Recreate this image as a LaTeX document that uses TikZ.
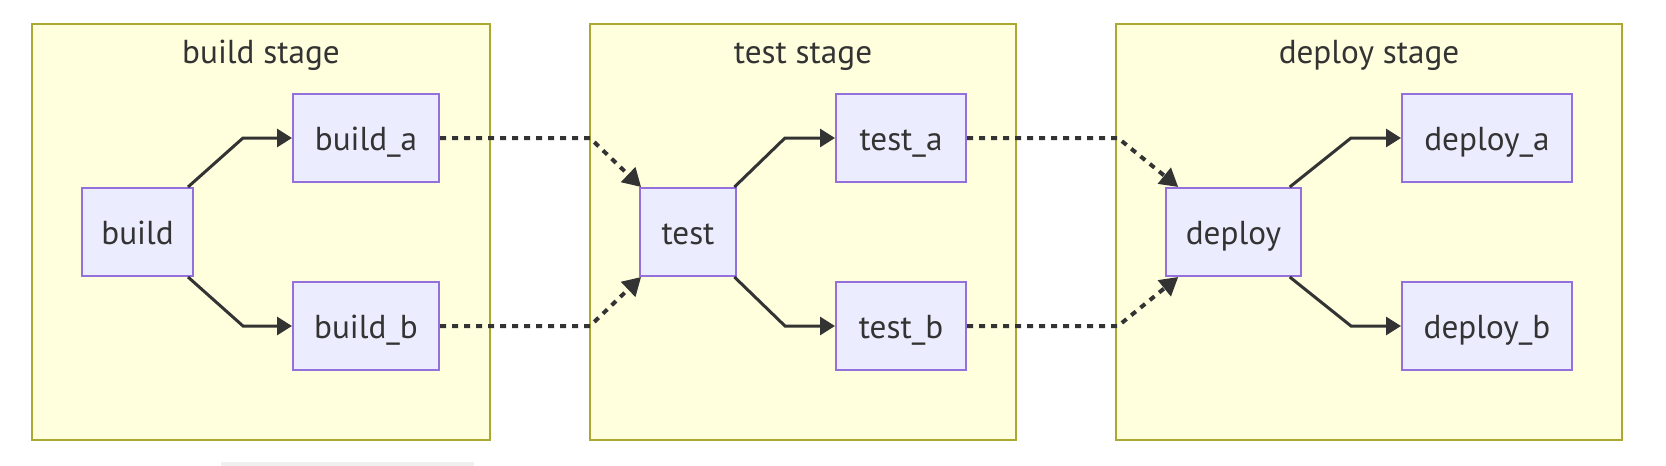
\documentclass[tikz,border=0pt]{standalone}
\usepackage{fontspec}
\setmainfont{PT Sans}
\usetikzlibrary{arrows.meta}
\definecolor{clFill}{HTML}{FFFFDE}
\definecolor{clStroke}{HTML}{AAAA33}
\definecolor{ndFill}{HTML}{ECECFF}
\definecolor{ndStroke}{HTML}{9370DB}
\definecolor{ink}{HTML}{333333}
\definecolor{barGrey}{HTML}{EFEFEF}
\tikzset{
  cluster/.style={fill=clFill, draw=clStroke, line width=1pt},
  cltitle/.style={text=ink, font=\fontsize{16.6}{19}\selectfont, inner sep=0pt, anchor=base},
  nd/.style={draw=ndStroke, fill=ndFill, line width=1pt, minimum height=44pt, inner sep=0pt,
    text height=15pt, text depth=3pt,
    text=ink, font=\fontsize{16.6}{19}\selectfont},
  edge/.style={draw=ink, line width=1.5pt, -{Triangle[length=7.5pt,width=9pt]}},
  dotedge/.style={draw=ink, line width=2pt, dash pattern=on 3pt off 3pt, -{Triangle[length=9pt,width=10pt]}}
}
\begin{document}
\begin{tikzpicture}[x=0.5pt,y=-0.5pt]
\useasboundingbox (0,0) rectangle (1666,466);
% clusters
\draw[cluster] (32,24) rectangle (490,440);
\draw[cluster] (590,24) rectangle (1016,440);
\draw[cluster] (1116,24) rectangle (1622,440);
\node[cltitle] (tbuild) at (261,63) {build stage};
\node[cltitle] (ttest) at (803,63) {test stage};
\node[cltitle] (tdeploy) at (1369,63) {deploy stage};
% grey bar
\fill[barGrey] (221,462) rectangle (474,466);
% nodes
\node[nd, minimum width=55.5pt] (build) at (137.5,232) {build};
\node[nd, minimum width=73pt] (builda) at (366,138) {build\_a};
\node[nd, minimum width=73pt] (buildb) at (366,326) {build\_b};
\node[nd, minimum width=48pt] (test) at (688,232) {test};
\node[nd, minimum width=65pt] (testa) at (901,138) {test\_a};
\node[nd, minimum width=65pt] (testb) at (901,326) {test\_b};
\node[nd, minimum width=67.5pt] (deploy) at (1233.5,232) {deploy};
\node[nd, minimum width=85pt] (deploya) at (1487,138) {deploy\_a};
\node[nd, minimum width=85pt] (deployb) at (1487,326) {deploy\_b};
% bend points
\coordinate (bA) at (243,138);
\coordinate (bB) at (243,326);
\coordinate (tA) at (785,138);
\coordinate (tB) at (785,326);
\coordinate (dA) at (1351,138);
\coordinate (dB) at (1351,326);
\coordinate (xA) at (590,138);
\coordinate (xB) at (590,326);
\coordinate (yA) at (1118,138);
\coordinate (yB) at (1118,326);
% solid edges
\draw[edge] (build) -- (bA) -- (builda);
\draw[edge] (build) -- (bB) -- (buildb);
\draw[edge] (test) -- (tA) -- (testa);
\draw[edge] (test) -- (tB) -- (testb);
\draw[edge] (deploy) -- (dA) -- (deploya);
\draw[edge] (deploy) -- (dB) -- (deployb);
% dotted edges
\draw[dotedge] (builda) -- (xA) -- (test);
\draw[dotedge] (buildb) -- (xB) -- (test);
\draw[dotedge] (testa) -- (yA) -- (deploy);
\draw[dotedge] (testb) -- (yB) -- (deploy);
\end{tikzpicture}
\end{document}
